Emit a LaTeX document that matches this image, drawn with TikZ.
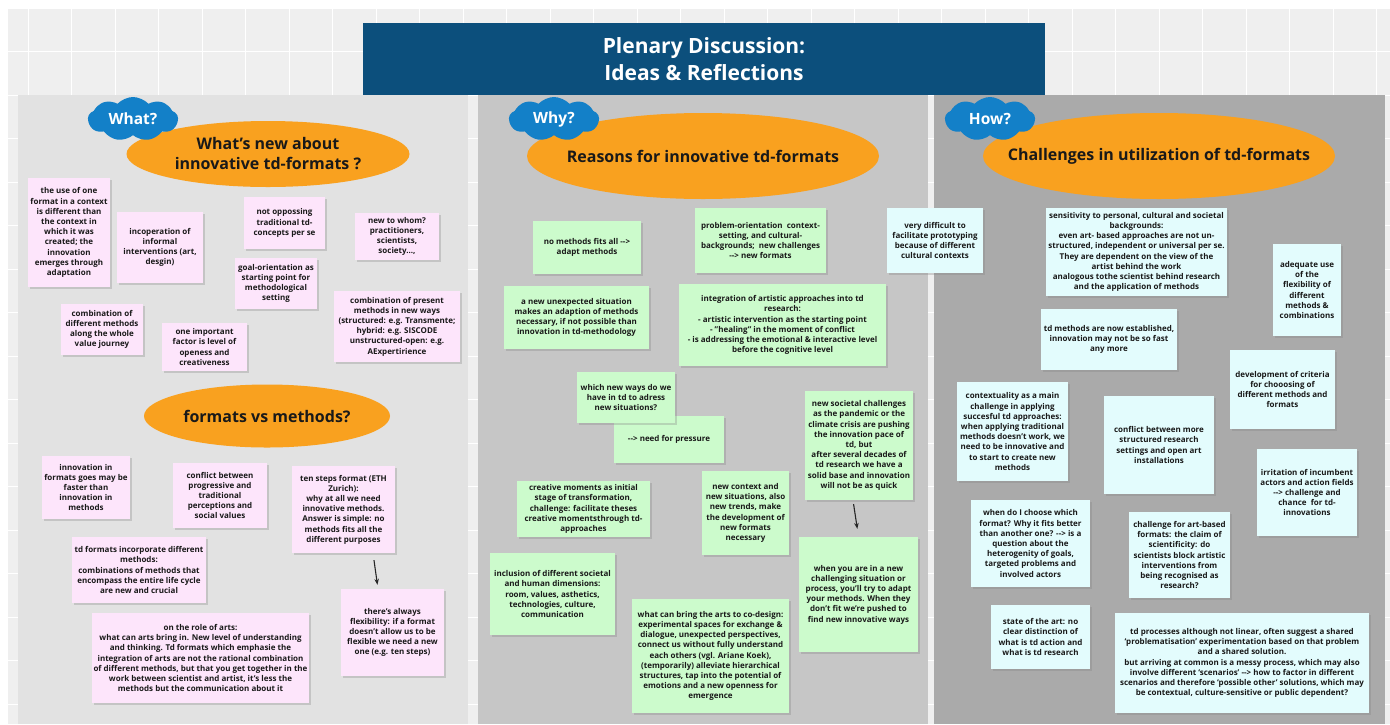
\documentclass[tikz,border=0pt]{standalone}
\usepackage{fontspec}
\setmainfont{Open Sans}
\usetikzlibrary{shapes.geometric,shapes.symbols,shadows,arrows.meta}

\definecolor{titleblue}{RGB}{12,79,124}
\definecolor{cloudblue}{RGB}{19,128,200}
\definecolor{bloborange}{RGB}{249,161,31}
\definecolor{notepink}{RGB}{253,229,251}
\definecolor{notegreen}{RGB}{204,251,204}
\definecolor{notecyan}{RGB}{227,252,253}
\definecolor{boardgray}{RGB}{239,239,239}
\definecolor{panelwhat}{RGB}{226,226,226}
\definecolor{panelwhy}{RGB}{198,198,198}
\definecolor{panelhow}{RGB}{170,170,170}

\tikzset{
  stickynote/.style={rectangle, inner sep=1pt, align=center, text=black!90,
    font=\fontsize{8}{10.2}\selectfont\bfseries,
    drop shadow={shadow xshift=1.5pt, shadow yshift=-1.5pt, opacity=.3}},
  pinknote/.style={stickynote, fill=notepink},
  greennote/.style={stickynote, fill=notegreen},
  cyannote/.style={stickynote, fill=notecyan},
  blob/.style={ellipse, fill=bloborange, inner sep=0pt},
  blobtext/.style={align=center, text=black!90, font=\fontsize{16}{20}\selectfont\bfseries},
  cloudtag/.style={cloud, cloud puffs=9, cloud puff arc=95, aspect=2, fill=cloudblue,
    text=white, inner sep=0pt, minimum width=90, minimum height=44,
    font=\fontsize{15.5}{18}\selectfont\bfseries},
  titlebox/.style={rectangle, fill=titleblue, text=white, align=center,
    font=\fontsize{21}{27}\selectfont\bfseries},
  jump/.style={-{Stealth[length=6pt,width=4.5pt]}, line width=1.1pt, black!85}
}

\begin{document}
\begin{tikzpicture}[x=1pt,y=-1pt]
    \useasboundingbox (0,0) rectangle (1390,724);
    \fill[white] (0,0) rectangle (1390,724);
    \fill[boardgray] (8,8) rectangle (1390,724);
    \foreach \gx in {28,71.5,...,1390}
      \draw[white, line width=.8pt] (\gx,8) -- (\gx,724);
    \foreach \gy in {8,51.5,...,724}
      \draw[white, line width=.8pt] (8,\gy) -- (1390,\gy);

    \fill[panelwhat] (18,95) rectangle (468,724);
    \fill[panelwhy] (478,95) rectangle (928,724);
    \fill[panelhow] (934,95) rectangle (1385,724);

    \node[titlebox, minimum width=682, minimum height=72] (title) at (704,59)
      {Plenary Discussion:\\Ideas \& Reflections};

    \node[blob, minimum width=283, minimum height=66] (whatblob) at (268,154) {};
    \node[blobtext] (whathead) at (whatblob) {What{\char"27}s new about\\innovative td-formats ?};
    \node[blob, minimum width=352, minimum height=86] (whyblob) at (703,156) {};
    \node[blobtext] (whyhead) at (whyblob) {Reasons for innovative td-formats};
    \node[blob, minimum width=352, minimum height=86] (howblob) at (1159,156) {};
    \node[blobtext] (howhead) at (howblob) {Challenges in utilization of td-formats};
    \node[blob, minimum width=246, minimum height=63] (vsblob) at (267,416) {};
    \node[blobtext] (vshead) at (vsblob) {formats vs methods?};

    \node[cloudtag] (what) at (133,119) {What?};
    \node[cloudtag] (why) at (554,119) {Why?};
    \node[cloudtag] (how) at (990,119) {How?};

    \node[pinknote, minimum width=82, minimum height=109] (useone) at (69,232.5)
      {the use of one\\format in a context\\is different than\\the context in\\which it was\\created; the\\innovation\\emerges through\\adaptation};
    \node[pinknote, minimum width=86, minimum height=71] (incop) at (160,247.5)
      {incoperation of\\informal\\interventions (art,\\desgin)};
    \node[pinknote, minimum width=81, minimum height=52] (notopp) at (284.5,223)
      {not oppossing\\traditional td-\\concepts per se};
    \node[pinknote, minimum width=84, minimum height=47] (whom) at (397,236.5)
      {new to whom?\\practitioners,\\scientists,\\society...,};
    \node[pinknote, minimum width=82, minimum height=51] (goal) at (276,283.5)
      {goal-orientation as\\starting point for\\methodological\\setting};
    \node[pinknote, minimum width=82, minimum height=51] (combdiff) at (102,329.5)
      {combination of\\different methods\\along the whole\\value journey};
    \node[pinknote, minimum width=85, minimum height=48] (factor) at (204.5,347)
      {one important\\factor is level of\\openess and\\creativeness};
    \node[pinknote, minimum width=126, minimum height=71] (combpres) at (397,326.5)
      {combination of present\\methods in new ways\\(structured: e.g. Transmente;\\hybrid: e.g. SISCODE\\unstructured-open: e.g.\\AExpertirience};
    \node[pinknote, minimum width=88, minimum height=63] (faster) at (86,487.5)
      {innovation in\\formats goes may be\\faster than\\innovation in\\methods};
    \node[pinknote, minimum width=94, minimum height=65] (progr) at (220,495.5)
      {conflict between\\progressive and\\traditional\\perceptions and\\social values};
    \node[pinknote, minimum width=103, minimum height=87] (tensteps) at (343.5,509.5)
      {ten steps format (ETH\\Zurich):\\why at all we need\\innovative methods.\\Answer is simple: no\\methods fits all the\\different purposes};
    \node[pinknote, minimum width=134, minimum height=66] (lifecycle) at (139,570)
      {td formats incorporate different\\methods:\\combinations of methods that\\encompass the entire life cycle\\are new and crucial};
    \node[pinknote, minimum width=217, minimum height=90] (rolearts) at (200.5,658)
      {on the role of arts:\\what can arts bring in. New level of understanding\\and thinking. Td formats which emphasie the\\integration of arts are not the rational combination\\of different methods, but that you get together in the\\work between scientist and artist, it's less the\\methods but the communication about it};
    \node[pinknote, minimum width=103, minimum height=87] (flex) at (392.5,632.5)
      {there's always\\flexibility: if a format\\doesn't allow us to be\\flexible we need a new\\one (e.g. ten steps)};
    \draw[jump, shorten <=7pt, shorten >=4pt] ([xshift=29.5pt]tensteps.south) -- ([xshift=-14.5pt]flex.north);

    \node[greennote, minimum width=108, minimum height=53] (nofit) at (587,247.5)
      {no methods fits all -{}->\\adapt methods};
    \node[greennote, minimum width=131, minimum height=65] (problem) at (760.5,240.5)
      {problem-orientation\ \ context-\\setting, and cultural-\\backgrounds;\ \ new challenges\\-{}-> new formats};
    \node[greennote, minimum width=145, minimum height=63] (unexp) at (576.5,317.5)
      {a new unexpected situation\\makes an adaption of methods\\necessary, if not possible than\\innovation in td-methodology};
    \node[greennote, minimum width=207, minimum height=82] (integ) at (782.5,325)
      {integration of artistic approaches into td\\research:\\- artistic intervention as the starting point\\- "healing" in the moment of conflict\\- is addressing the emotional \& interactive level\\before the cognitive level};
    \node[greennote, minimum width=110, minimum height=47] (pressure) at (669,439.5)
      {-{}-> need for pressure};
    \node[greennote, minimum width=98, minimum height=51] (newways) at (626,397.5)
      {which new ways do we\\have in td to adress\\new situations?};
    \node[greennote, minimum width=108, minimum height=109] (societal) at (859,445.5)
      {new societal challenges\\as the pandemic or the\\climate crisis are pushing\\the innovation pace of\\td, but\\after several decades of\\td research we have a\\solid base and innovation\\will not be as quick};
    \node[greennote, minimum width=133, minimum height=56] (creative) at (583.5,509)
      {creative moments as initial\\stage of transformation,\\challenge: facilitate theses\\creative momentsthrough td-\\approaches};
    \node[greennote, minimum width=87, minimum height=84] (newctx) at (745.5,513)
      {new context and\\new situations, also\\new trends, make\\the development of\\new formats\\necessary};
    \node[greennote, minimum width=125, minimum height=82] (inclusion) at (552.5,594)
      {inclusion of different societal\\and human dimensions:\\room, values, asthetics,\\technologies, culture,\\communication};
    \node[greennote, minimum width=157, minimum height=114] (codesign) at (710.5,656)
      {what can bring the arts to co-design:\\experimental spaces for exchange \&\\dialogue, unexpected perspectives,\\connect us without fully understand\\each others (vgl. Ariane Koek),\\(temporarily) alleviate hierarchical\\structures, tap into the potential of\\emotions and a new openness for\\emergence};
    \node[greennote, minimum width=119, minimum height=115] (adapt) at (858.5,594.5)
      {when you are in a new\\challenging situation or\\process, you'll try to adapt\\your methods. When they\\don't fit we're pushed to\\find new innovative ways};
    \draw[jump, shorten <=4pt, shorten >=8pt] ([xshift=-6pt]societal.south) -- (adapt.north);

    \node[cyannote, minimum width=96, minimum height=65] (proto) at (935,240.5)
      {very difficult to\\facilitate prototyping\\because of different\\cultural contexts};
    \node[cyannote, minimum width=181, minimum height=88] (sensit) at (1136.5,252)
      {sensitivity to personal, cultural and societal\\backgrounds:\\even art- based approaches are not un-\\structured, independent or universal per se.\\They are dependent on the view of the\\artist behind the work\\analogous tothe scientist behind research\\and the application of methods};
    \node[cyannote, minimum width=68, minimum height=92] (adequate) at (1307,290)
      {adequate use\\of the\\flexibility of\\different\\methods \&\\combinations};
    \node[cyannote, minimum width=136, minimum height=61] (established) at (1109,339.5)
      {td methods are now established,\\innovation may not be so fast\\any more};
    \node[cyannote, minimum width=105, minimum height=79] (criteria) at (1282.5,389.5)
      {development of criteria\\for chooosing of\\different methods and\\formats};
    \node[cyannote, minimum width=111, minimum height=99] (contextual) at (1012.5,431.5)
      {contextuality as a main\\challenge in applying\\succesful td approaches:\\when applying traditional\\methods doesn't work, we\\need to be innovative and\\to start to create new\\methods};
    \node[cyannote, minimum width=110, minimum height=98] (structured) at (1159,445)
      {conflict between more\\structured research\\settings and open art\\installations};
    \node[cyannote, minimum width=100, minimum height=87] (irritation) at (1307,492.5)
      {irritation of incumbent\\actors and action fields\\-{}-> challenge and\\chance\ \ for td-\\innovations};
    \node[cyannote, minimum width=119, minimum height=87] (choose) at (1030.5,543.5)
      {when do I choose which\\format? Why it fits better\\than another one? -{}-> is a\\question about the\\heterogenity of goals,\\targeted problems and\\involved actors};
    \node[cyannote, minimum width=101, minimum height=86] (scientif) at (1179.5,555)
      {challenge for art-based\\formats: the claim of\\scientificity: do\\scientists block artistic\\interventions from\\being recognised as\\research?};
    \node[cyannote, minimum width=99, minimum height=64] (stateart) at (1040.5,637)
      {state of the art: no\\clear distinction of\\what is td action and\\what is td research};
    \node[cyannote, minimum width=254, minimum height=100] (processes) at (1242,663)
      {td processes although not linear, often suggest a shared\\`problematisation' experimentation based on that problem\\and a shared solution.\\but arriving at common is a messy process, which may also\\involve different `scenarios' -{}-> how to factor in different\\scenarios and therefore `possible other' solutions, which may\\be contextual, culture-sensitive or public dependent?};
\end{tikzpicture}
\end{document}
